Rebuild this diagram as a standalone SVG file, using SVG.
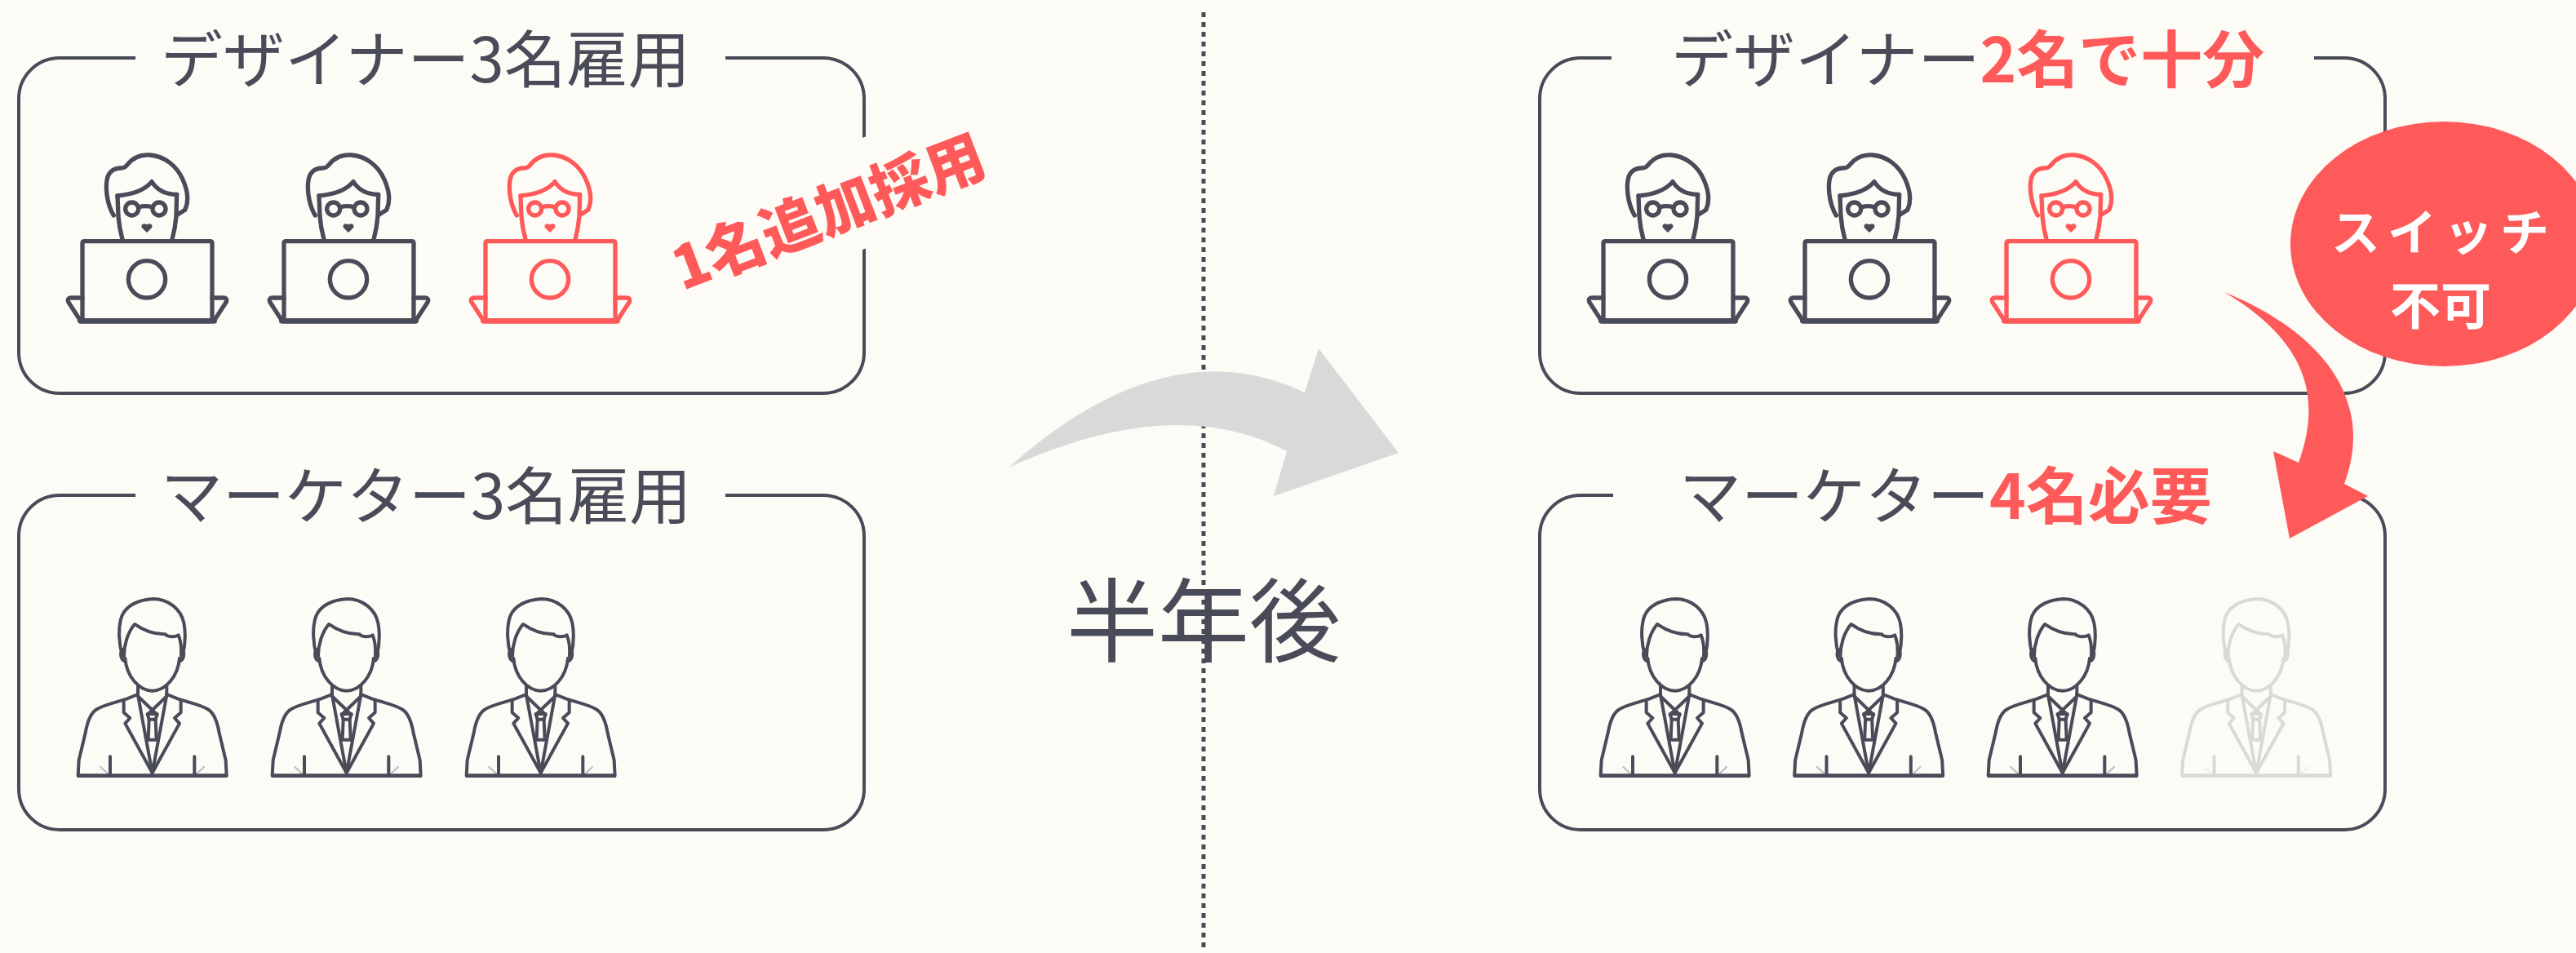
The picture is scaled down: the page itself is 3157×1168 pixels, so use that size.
<svg xmlns="http://www.w3.org/2000/svg" xmlns:xlink="http://www.w3.org/1999/xlink" width="3157" height="1168" viewBox="0 0 3157 1168">
  <style>
    .box { fill: none; stroke: #494b58; stroke-width: 4; }
    .title { font-family: "Noto Sans CJK JP", "Noto Sans", sans-serif; font-size: 76px; fill: #494b58; font-weight: 400; }
    .accent { fill: #ff5a5a; font-weight: 700; }
    .icon { fill: none; stroke: currentColor; stroke-linecap: round; stroke-linejoin: round; }
    .dark { color: #494b58; }
    .red { color: #ff5a5a; }
    .faded { color: #d9d9d9; }
  </style>
  <defs>
    <!-- designer at a laptop, drawn on a 660x690 grid -->
    <g id="designer" class="icon">
      <g transform="scale(0.3333)" stroke-width="16">
        <path d="M178,282 C158,250 148,200 152,160 C155,125 175,108 205,108 C215,108 222,104 228,96 C250,68 280,58 312,60 C365,64 410,100 432,150 C450,190 455,230 440,262 L414,278"/>
        <path d="M192,210 C245,205 292,190 318,158 C335,185 365,205 410,205"/>
        <path d="M192,210 L195,285 C198,320 203,345 210,370"/>
        <path d="M410,205 L408,285 C405,320 400,345 393,370"/>
        <circle cx="245" cy="258" r="24"/>
        <circle cx="345" cy="258" r="24"/>
        <path d="M269,252 Q295,244 321,252"/>
        <path d="M300,340 L286,326 C280,318 292,312 300,322 C308,312 320,318 314,326 Z" fill="currentColor" stroke-width="8"/>
        <rect x="63" y="377" width="477" height="291" rx="6"/>
        <path d="M63,585 L22,585 Q6,585 11,600 L55,668 M540,585 L581,585 Q597,585 592,600 L548,668"/>
        <path d="M55,670 L548,670" stroke-width="20"/>
        <circle cx="300" cy="517" r="68"/>
      </g>
    </g>
    <!-- businessman bust, drawn on a 720x750 grid -->
    <g id="marketer" class="icon">
      <g transform="scale(0.3333)" stroke-width="12">
        <path d="M240,282 C228,240 222,180 238,135 C255,95 300,75 352,72 C410,72 455,110 466,160 C474,200 470,245 462,282"/>
        <path d="M246,282 C246,240 260,195 285,165 C320,190 360,203 398,202 C405,212 432,214 446,205 C456,230 458,255 456,282"/>
        <path d="M244,258 C230,260 230,295 250,302 M456,258 C470,260 470,295 450,302"/>
        <path d="M250,290 C255,355 300,410 350,410 C400,410 445,355 450,290"/>
        <path d="M297,392 L297,425 M403,392 L403,425"/>
        <path d="M297,423 L255,440 C205,456 165,462 140,482 C118,500 110,530 104,565 L80,665 L77,722"/>
        <path d="M403,423 L445,440 C495,456 535,462 560,482 C582,500 590,530 596,565 L620,665 L623,722"/>
        <path d="M74,722 L626,722" stroke-width="14" stroke-linecap="butt"/>
        <path d="M245,443 L245,490 L268,510 L250,530 L350,712 L450,530 L432,510 L455,490 L455,443"/>
        <path d="M297,425 L350,712 L403,425"/>
        <path d="M297,430 L368,498 M403,430 L332,498"/>
        <path d="M332,495 L368,495 L362,515 L338,515 Z"/>
        <path d="M338,515 L335,590 L365,590 L362,515"/>
        <path d="M195,652 L195,722 M505,652 L505,722"/>
        <path d="M160,690 L190,718 M540,690 L510,718" stroke-width="6" opacity="0.35"/>
      </g>
    </g>
  </defs>

  <rect width="3157" height="1168" fill="#fcfbf6"/>

  <!-- divider, timeline arrow and caption -->
  <g id="timeline">
    <line x1="1475" y1="15" x2="1475" y2="1162" stroke="#494b58" stroke-width="5" stroke-dasharray="6 6"/>
    <text x="1475" y="803" text-anchor="middle" font-family="Noto Sans CJK JP, Noto Sans, sans-serif" font-size="112" fill="#494b58">半年後</text>
    <path d="M1236,573 Q1430,400 1599,481 L1616,427 L1714,555 L1561,608 L1577,553 Q1440,480 1236,573 Z" fill="#d9d9d9"/>
  </g>

  <!-- before: designers -->
  <g id="designers-before">
    <path class="box" d="M166,71 H73 A50,50 0 0 0 23,121 V432 A50,50 0 0 0 73,482 H1009 A50,50 0 0 0 1059,432 V121 A50,50 0 0 0 1009,71 H889"/>
    <text class="title" x="197" y="101">デザイナー3名雇用</text>
    <use xlink:href="#designer" x="80" y="170" class="dark"/>
    <use xlink:href="#designer" x="327" y="170" class="dark"/>
    <use xlink:href="#designer" x="574" y="170" class="red"/>
    <g transform="translate(1015,259) rotate(-21)">
      <rect x="-212" y="-69" width="424" height="128" fill="#fcfbf6"/>
      <text x="0" y="27" text-anchor="middle" font-family="Noto Sans CJK JP, Noto Sans, sans-serif" font-size="72" font-weight="900" fill="#ff5a5a">1名追加採用</text>
    </g>
  </g>

  <!-- before: marketers -->
  <g id="marketers-before">
    <path class="box" d="M166,607 H73 A50,50 0 0 0 23,657 V967 A50,50 0 0 0 73,1017 H1009 A50,50 0 0 0 1059,967 V657 A50,50 0 0 0 1009,607 H889"/>
    <text class="title" x="197" y="636">マーケター3名雇用</text>
    <use xlink:href="#marketer" x="70" y="710" class="dark"/>
    <use xlink:href="#marketer" x="308" y="710" class="dark"/>
    <use xlink:href="#marketer" x="546" y="710" class="dark"/>
  </g>

  <!-- after: designers -->
  <g id="designers-after">
    <path class="box" d="M1975,71 H1937 A50,50 0 0 0 1887,121 V432 A50,50 0 0 0 1937,482 H2873 A50,50 0 0 0 2923,432 V121 A50,50 0 0 0 2873,71 H2836"/>
    <text class="title" x="2048" y="101">デザイナー<tspan class="accent">2名で十分</tspan></text>
    <use xlink:href="#designer" x="1944" y="170" class="dark"/>
    <use xlink:href="#designer" x="2191" y="170" class="dark"/>
    <use xlink:href="#designer" x="2438" y="170" class="red"/>
  </g>

  <!-- after: marketers -->
  <g id="marketers-after">
    <path class="box" d="M1977,607 H1937 A50,50 0 0 0 1887,657 V967 A50,50 0 0 0 1937,1017 H2873 A50,50 0 0 0 2923,967 V657 A50,50 0 0 0 2873,607 H2805"/>
    <text class="title" x="2058" y="636">マーケター<tspan class="accent">4名必要</tspan></text>
    <use xlink:href="#marketer" x="1936" y="710" class="dark"/>
    <use xlink:href="#marketer" x="2173.5" y="710" class="dark"/>
    <use xlink:href="#marketer" x="2411" y="710" class="dark"/>
    <use xlink:href="#marketer" x="2648.5" y="710" class="faded"/>
  </g>

  <!-- callout: no switching between roles -->
  <g id="switch-callout">
    <path d="M2726,358 C2830,400 2915,480 2873,593 L2902,608 L2806,660 L2786,553 L2817,567 C2845,490 2830,420 2726,358 Z" fill="#ff5a5a"/>
    <ellipse cx="2995" cy="299" rx="188" ry="150" fill="#ff5a5a"/>
    <text x="2995" y="307" text-anchor="middle" font-family="Noto Sans CJK JP, Noto Sans, sans-serif" font-size="60" font-weight="700" letter-spacing="9" fill="#ffffff">スイッチ</text>
    <text x="2991" y="398" text-anchor="middle" font-family="Noto Sans CJK JP, Noto Sans, sans-serif" font-size="62" font-weight="700" fill="#ffffff">不可</text>
  </g>
</svg>
